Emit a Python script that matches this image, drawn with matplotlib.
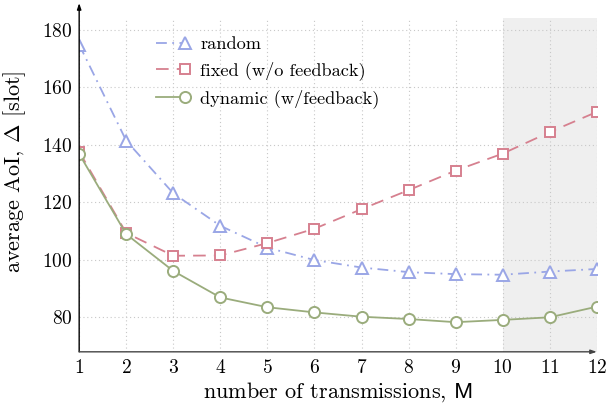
import numpy as np
import matplotlib
matplotlib.use("Agg")
import matplotlib.pyplot as plt
from matplotlib.legend_handler import HandlerLine2D
from matplotlib.lines import Line2D

plt.rcParams['font.family'] = 'cmr10'
plt.rcParams['mathtext.fontset'] = 'cm'
plt.rcParams['axes.formatter.use_mathtext'] = True

# data
M = [1, 2, 3, 4, 5, 6, 7, 8, 9, 10, 11, 12]
aoi_random = [174.8, 141.4, 123.1, 111.8, 104.2, 99.9, 97.3, 95.7, 95.0, 94.8, 95.9, 96.8]
aoi_fixed = [137.6, 109.3, 101.4, 101.5, 105.8, 110.8, 117.6, 124.2, 131.0, 136.9, 144.4, 151.4]
aoi_dynamic = [136.8, 108.9, 96.1, 86.9, 83.5, 81.7, 80.2, 79.4, 78.3, 79.1, 80.0, 83.7]
labels = ["random", "fixed (w/o feedback)", "dynamic (w/feedback)"]
shade = (10, 12)

c_blue = "#9aa6e6"
c_red = "#d6808f"
c_green = "#9aac7c"


class EndMarker(HandlerLine2D):
    # pgfplots style: marker sits at the right end of the legend line
    def create_artists(self, *args, **kwargs):
        arts = super().create_artists(*args, **kwargs)
        arts[0].set_markevery([2])
        return arts


fig = plt.figure(figsize=(6.09, 4.03), dpi=100)
ax = fig.add_axes([0.130, 0.127, 0.850, 0.828])

ax.axvspan(shade[0], shade[1], color="#efefef", zorder=0, lw=0)

ax.plot(M, aoi_random, color=c_blue, lw=1.3, dashes=(6, 3, 1, 3),
        marker="^", ms=8, mfc="white", mew=1.4, label=labels[0], zorder=3)
ax.plot(M, aoi_fixed, color=c_red, lw=1.3, dashes=(7, 4.5),
        marker="s", ms=7.5, mfc="white", mew=1.4, label=labels[1], zorder=3)
ax.plot(M, aoi_dynamic, color=c_green, lw=1.3,
        marker="o", ms=8, mfc="white", mew=1.4, label=labels[2], zorder=3)

ax.set_xlim(1, 12)
ax.set_ylim(68, 184)
ax.set_xticks(M)
ax.set_yticks([80, 100, 120, 140, 160, 180])
ax.grid(True, color="#c8c8c8", ls=(0, (1, 2.5)), lw=0.8)
ax.set_axisbelow(True)
ax.tick_params(length=0, labelsize=14)
ax.tick_params(axis="x", pad=5)
ax.tick_params(axis="y", pad=5)

for s in ["top", "right", "left", "bottom"]:
    ax.spines[s].set_visible(False)
ax.annotate("", xy=(0, 1.045), xytext=(0, 0), xycoords="axes fraction",
            arrowprops=dict(arrowstyle="-|>,head_length=0.35,head_width=0.12", color="black", lw=1.0,
                            shrinkA=0, shrinkB=0), zorder=5)
ax.annotate("", xy=(1.0, 0), xytext=(0, 0), xycoords="axes fraction",
            arrowprops=dict(arrowstyle="-|>,head_length=0.35,head_width=0.12", color="#444444", lw=1.0,
                            shrinkA=0, shrinkB=0), zorder=5)

ax.set_xlabel(r"number of transmissions, $\mathsf{M}$", fontsize=16)
ax.set_ylabel(r"average AoI, $\Delta$ [slot]", fontsize=16)
ax.xaxis.set_label_coords(0.5, -0.085)
ax.yaxis.set_label_coords(-0.098, 0.54)

ax.legend(loc="upper left", bbox_to_anchor=(0.1486, 0.946), frameon=False, fontsize=13.2,
          borderaxespad=0, borderpad=0,
          handlelength=1.55, handletextpad=0.85, labelspacing=0.5,
          handler_map={Line2D: EndMarker(numpoints=1)})

fig.savefig("out.png", dpi=100)
